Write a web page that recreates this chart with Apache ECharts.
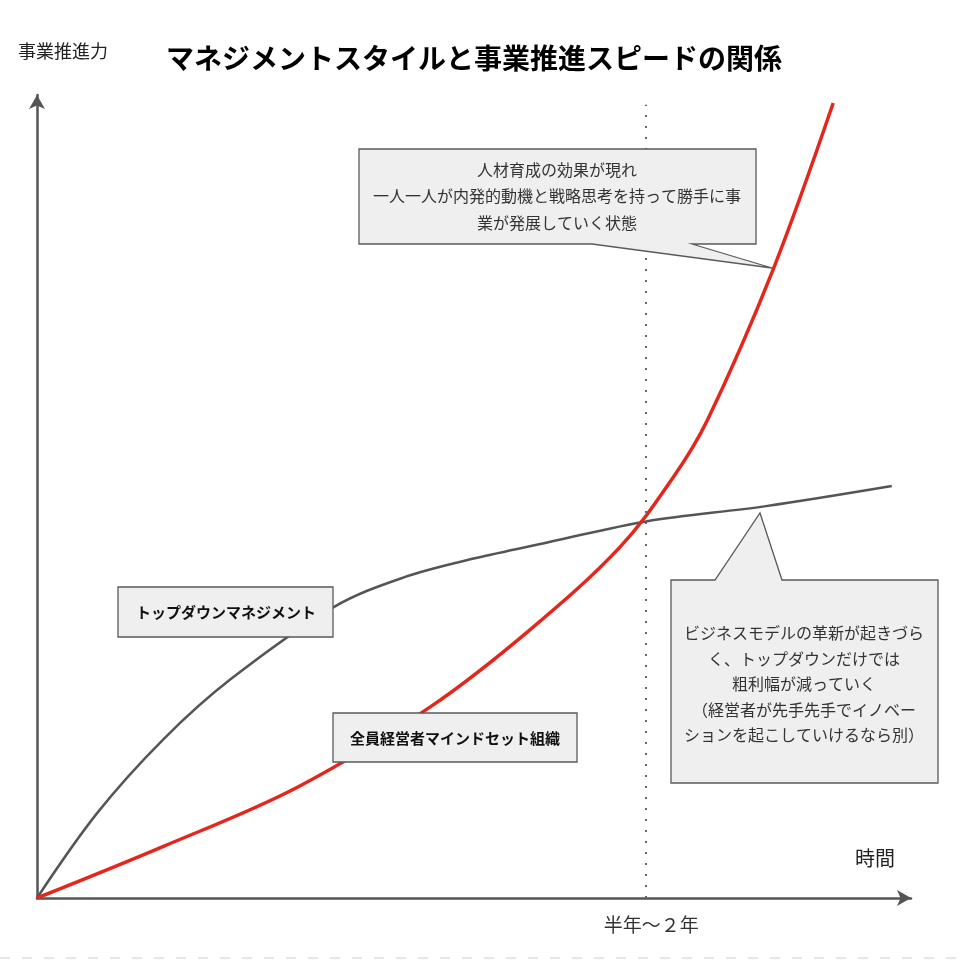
<!DOCTYPE html>
<html>
<head>
<meta charset="utf-8">
<script src="https://cdn.jsdelivr.net/npm/echarts@6/dist/echarts.min.js"></script>
<style>html,body{margin:0;padding:0;background:#fff}#c{width:961px;height:961px}</style>
</head>
<body>
<div id="c"></div>
<script>
// ---- data (arbitrary units: time 0-100, business momentum 0-100) ----
const titleText = 'マネジメントスタイルと事業推進スピードの関係';
const yAxisName = '事業推進力';
const xAxisName = '時間';
const milestoneX = 69.6;
const milestoneTop = 98.8;
const milestoneLabel = '半年〜２年';

const topDownName = 'トップダウンマネジメント';
const topDownX = [0, 6.9, 14.4, 22.1, 33.9, 41.9, 50.1, 58.5, 69.7, 83.4, 97.8];
const topDownY = [0, 10.6, 19.7, 27.2, 36.2, 39.9, 42.3, 44.3, 46.9, 48.8, 51.3];

const allMgmtName = '全員経営者マインドセット組織';
const allMgmtX = [0, 14.4, 29.8, 45.0, 56.4, 66.7, 72.8, 76.7, 84.2, 91.1];
const allMgmtY = [0, 6.4, 13.8, 23.8, 33.4, 43.7, 52.4, 59.5, 78.2, 99.0];

const noteUpper = ['人材育成の効果が現れ', '一人一人が内発的動機と戦略思考を持って勝手に事', '業が発展していく状態'];
const noteRight = ['ビジネスモデルの革新が起きづら', 'く、トップダウンだけでは', '粗利幅が減っていく', '（経営者が先手先手でイノベー', 'ションを起こしていけるなら別）'];

const zip = (xs, ys) => xs.map((x, i) => [x, ys[i]]);

const FONT = '"Noto Sans CJK JP", "Noto Sans", sans-serif';
const chart = echarts.init(document.getElementById('c'), null, {renderer: 'canvas'});

const boxFill = '#efefef';
const boxStroke = '#5a5a5a';

chart.setOption({
  backgroundColor: '#fff',
  animation: false,
  textStyle: {fontFamily: FONT},
  title: {
    text: titleText,
    left: 166, top: 44, padding: 0,
    textStyle: {fontSize: 28, fontWeight: 'bold', color: '#000', fontFamily: FONT}
  },
  grid: {left: 37, right: 50, top: 95, bottom: 63, containLabel: false},
  xAxis: {
    type: 'value', min: 0, max: 100,
    axisLine: {show: true, symbol: ['none', 'arrow'], symbolSize: [12, 14], lineStyle: {color: '#555', width: 2.5}},
    axisTick: {show: false},
    splitLine: {show: false},
    axisLabel: {
      show: true, customValues: [milestoneX], formatter: () => milestoneLabel,
      margin: 17, fontSize: 19, color: '#333', fontFamily: FONT, padding: [0, 0, 0, 12]
    }
  },
  yAxis: {
    type: 'value', min: 0, max: 100,
    axisLine: {show: true, symbol: ['none', 'arrow'], symbolSize: [12, 14], lineStyle: {color: '#555', width: 2.5}},
    axisTick: {show: false},
    splitLine: {show: false},
    axisLabel: {show: false}
  },
  series: [
    {
      name: topDownName, type: 'line', data: zip(topDownX, topDownY),
      smooth: 0.35, showSymbol: false, symbol: 'none',
      lineStyle: {color: '#555', width: 2.5}, z: 3,
      markLine: {
        silent: true, symbol: ['none', 'none'], label: {show: false},
        lineStyle: {color: '#666', type: [2, 9], width: 2},
        data: [[{coord: [milestoneX, 0]}, {coord: [milestoneX, milestoneTop]}]]
      }
    },
    {
      name: allMgmtName, type: 'line', data: zip(allMgmtX, allMgmtY),
      smooth: 0.35, showSymbol: false, symbol: 'none',
      lineStyle: {color: '#e3271d', width: 3.5}, z: 4
    }
  ],
  graphic: [
    {type: 'text', left: 18, top: 42, z: 50, style: {text: yAxisName, fontSize: 18, fill: '#222', fontFamily: FONT}},
    {type: 'text', left: 855, top: 848, z: 50, style: {text: xAxisName, fontSize: 20, fill: '#222', fontFamily: FONT}},
    // upper callout
    {type: 'polygon', z: 100, shape: {points: [[359,149],[756,149],[756,244],[692,244],[772,268],[592,244],[359,244]]},
      style: {fill: boxFill, stroke: boxStroke, lineWidth: 1.3}},
    {type: 'text', z: 101, x: 557, y: 196, style: {text: noteUpper.join('\n'), fontSize: 16, lineHeight: 26.5, fill: '#333', align: 'center', verticalAlign: 'middle', fontFamily: FONT}},
    // right callout
    {type: 'polygon', z: 100, shape: {points: [[671,580],[715,580],[760,513],[782,580],[938,580],[938,783],[671,783]]},
      style: {fill: boxFill, stroke: boxStroke, lineWidth: 1.3}},
    {type: 'text', z: 101, x: 804, y: 684, style: {text: noteRight.join('\n'), fontSize: 16, lineHeight: 25.5, fill: '#333', align: 'center', verticalAlign: 'middle', fontFamily: FONT}},
    // series labels
    {type: 'rect', z: 100, shape: {x: 118, y: 587, width: 215, height: 50}, style: {fill: boxFill, stroke: boxStroke, lineWidth: 1.3}},
    {type: 'text', z: 101, x: 226, y: 612, style: {text: topDownName, fontSize: 15, fontWeight: 'bold', fill: '#111', align: 'center', verticalAlign: 'middle', fontFamily: FONT}},
    {type: 'rect', z: 100, shape: {x: 333, y: 713, width: 244, height: 49}, style: {fill: boxFill, stroke: boxStroke, lineWidth: 1.3}},
    {type: 'text', z: 101, x: 455, y: 738, style: {text: allMgmtName, fontSize: 15, fontWeight: 'bold', fill: '#111', align: 'center', verticalAlign: 'middle', fontFamily: FONT}},
    // faint dashed border at bottom
    {type: 'line', z: 1, shape: {x1: 0, y1: 958, x2: 961, y2: 958}, style: {stroke: '#e6e6e6', lineWidth: 2, lineDash: [10, 12]}}
  ]
});
</script>
</body>
</html>
